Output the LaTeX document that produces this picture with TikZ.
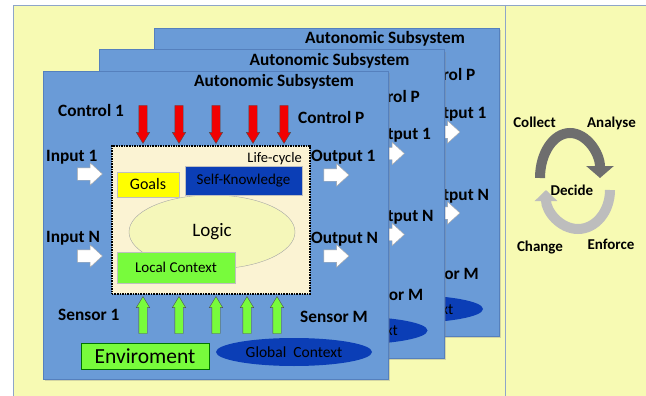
\documentclass[tikz,border=0pt]{standalone}
\usepackage{fontspec}
\setmainfont{Carlito}
\usepackage{tikz}
\usetikzlibrary{positioning,shapes.geometric,shapes.arrows,arrows.meta,shadows}
\definecolor{paleyellow}{HTML}{F7FAB3}
\definecolor{panelblue}{HTML}{6A9BD7}
\definecolor{paneledge}{HTML}{5580BD}
\definecolor{framegray}{HTML}{8EA5C9}
\definecolor{cream}{HTML}{FBF3D3}
\definecolor{logicfill}{HTML}{F5F7BA}
\definecolor{goalyellow}{HTML}{FFFF00}
\definecolor{deepblue}{HTML}{0B3EB6}
\definecolor{leafgreen}{HTML}{78FB3C}
\definecolor{controlred}{HTML}{F20000}
\definecolor{arcdark}{HTML}{6E6E6E}
\definecolor{arclight}{HTML}{BDBDBD}
\tikzset{
  panel/.style={draw=paneledge, fill=panelblue, line width=0.6pt, minimum width=345pt, minimum height=308pt, anchor=north west, drop shadow={shadow xshift=2pt, shadow yshift=-2pt, opacity=0.3}},
  lbl/.style={font=\fontsize{17.3}{20}\selectfont\bfseries, inner sep=0pt, anchor=base west},
  cyclelbl/.style={font=\fontsize{15}{18}\selectfont\bfseries, inner sep=0pt, anchor=base},
  ctlarrow/.style={single arrow, draw=black!70, fill=controlred, inner sep=4pt, single arrow head extend=2.5pt, single arrow tip angle=62, minimum height=38pt, rotate=-90},
  sensarrow/.style={single arrow, draw=black!70, fill=leafgreen, inner sep=4pt, single arrow head extend=2.5pt, single arrow tip angle=62, minimum height=37pt, rotate=90},
  ioarrow/.style={single arrow, draw=black!35, fill=white, inner sep=6pt, single arrow head extend=5pt, single arrow tip angle=85, minimum height=25pt},
  part/.style={draw=black!25, inner sep=0pt, align=center},
  cyclearc/.style={line width=10pt}
}
\begin{document}
\begin{tikzpicture}[x=1pt, y=-1pt]
  \useasboundingbox (0,0) rectangle (646,396);
  \fill[paleyellow] (13,5) rectangle (646,396);
  \draw[framegray] (13,396) |- (646,5);
  \draw[framegray] (505,5) -- (505,396);

  % subsystems behind
  \foreach \dx/\dy/\p in {111/-43/back, 55.5/-21.5/mid}{
    \begin{scope}[shift={(\dx,\dy)}, name prefix=\p-]
      \node[panel] (frame) at (43,71) {};
      \node[lbl] (title) at (194,87) {Autonomic Subsystem};
      \node[lbl] (ctlP) at (298,124) {Control P};
      \node[lbl] (out1) at (311,161) {Output 1};
      \node[lbl] (outN) at (311,243) {Output N};
      \node[lbl] (senM) at (300,322) {Sensor M};
      \node[ioarrow] (out1arrow) at (333,175) {};
      \node[ioarrow] (outNarrow) at (333,256) {};
      \node[ellipse, fill=deepblue, minimum width=156pt, minimum height=28pt, font=\fontsize{15.5}{18}\selectfont] (global) at (294,352) {Global\ \ Context};
    \end{scope}
  }

  % front subsystem
  \node[panel] (front) at (43,71) {};
  \node[lbl] (title) at (194,87) {Autonomic Subsystem};
  \node[lbl] (ctl1) at (58,117) {Control 1};
  \node[lbl] (ctlP) at (298,124) {Control P};
  \node[lbl] (in1) at (46,161) {Input 1};
  \node[lbl] (out1) at (311,161) {Output 1};
  \node[lbl] (inN) at (46,242) {Input N};
  \node[lbl] (outN) at (311,243) {Output N};
  \node[lbl] (sen1) at (58,320) {Sensor 1};
  \node[lbl] (senM) at (300,322) {Sensor M};

  \node[draw, densely dotted, line width=1.6pt, fill=cream, minimum width=198pt, minimum height=148pt, anchor=north west] (lifecycle) at (111,145) {};
  \node[inner sep=0pt, anchor=base east, font=\fontsize{14.5}{17}\selectfont] (lctext) at (302,162) {Life-cycle};
  \node[ellipse, draw=black!35, fill=logicfill, minimum width=166pt, minimum height=74pt, font=\fontsize{19}{22}\selectfont] (logic) at (212,232) {Logic};
  \node[part, fill=goalyellow, minimum width=62pt, minimum height=25pt, font=\fontsize{16}{19}\selectfont] (goals) at (148,184.5) {Goals};
  \node[part, fill=deepblue, minimum width=117pt, minimum height=29pt, font=\fontsize{15}{18}\selectfont] (selfk) at (243.5,180.5) {Self-Knowledge};
  \node[part, fill=leafgreen, minimum width=118pt, minimum height=31pt, font=\fontsize{15}{18}\selectfont] (localctx) at (176,267.5) {Local Context};

  \node[ctlarrow] (c1) at (143,121) {};
  \node[ctlarrow] (c2) at (179,121) {};
  \node[ctlarrow] (c3) at (216,121) {};
  \node[ctlarrow] (c4) at (253,121) {};
  \node[ctlarrow] (c5) at (284,121) {};

  \node[sensarrow] (s1) at (143,318.5) {};
  \node[sensarrow] (s2) at (179,318.5) {};
  \node[sensarrow] (s3) at (216,318.5) {};
  \node[sensarrow] (s4) at (247,318.5) {};
  \node[sensarrow] (s5) at (277,318.5) {};

  \node[ioarrow] (in1arrow) at (86.5,174) {};
  \node[ioarrow] (inNarrow) at (86.5,256) {};
  \node[ioarrow] (out1arrow) at (333,175) {};
  \node[ioarrow] (outNarrow) at (333,256) {};

  \node[part, draw=green!45!black, fill=leafgreen, minimum width=128pt, minimum height=26pt, font=\fontsize{21.5}{25}\selectfont] (env) at (145,356) {Enviroment};
  \node[ellipse, fill=deepblue, minimum width=156pt, minimum height=28pt, font=\fontsize{15.5}{18}\selectfont] (global) at (294,352) {Global\ \ Context};

  % cycle
  \node[cyclelbl] (collect) at (534.5,128) {Collect};
  \node[cyclelbl] (analyse) at (611.5,128) {Analyse};
  \node[cyclelbl] (decide) at (572,195) {Decide};
  \node[cyclelbl] (change) at (540,251) {Change};
  \node[cyclelbl] (enforce) at (611,249) {Enforce};
  \coordinate (collectFoot) at (540,178);
  \coordinate (enforceTop) at (610,190);
  \draw[cyclearc, draw=arcdark, -{Triangle[width=27pt, length=12pt]}] (collectFoot) arc[start angle=180, end angle=0, x radius=30pt, y radius=45pt];
  \draw[cyclearc, draw=arclight, -{Triangle[width=22pt, length=11pt]}] (enforceTop) arc[start angle=0, end angle=-180, x radius=32pt, y radius=39pt];
\end{tikzpicture}
\end{document}
